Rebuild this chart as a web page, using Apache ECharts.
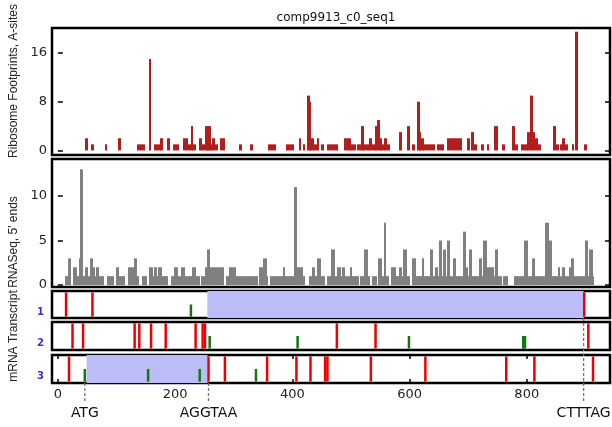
<!DOCTYPE html>
<html>
<head>
<meta charset="utf-8">
<script src="https://cdn.jsdelivr.net/npm/echarts@6/dist/echarts.min.js"></script>
<style>
    html, body { margin: 0; padding: 0; background: #fff; }
    #main { width: 612px; height: 427px; }
</style>
</head>
<body>
<div id="main"></div>
<script>
'use strict';

// 横轴: 转录本上的核苷酸位置
var xRange = [-10, 942];
var xTicks = [0, 200, 400, 600, 800];
var riboTicks = [0, 8, 16];
var rnaTicks = [0, 5, 10];

// 核糖体足迹 A 位点 [起, 止, 数量]
var riboSeg = [
    [48, 50, 2], [58, 60, 1], [81, 83, 1], [104, 106, 2], [136, 147, 1], [156, 158, 15],
    [166, 174, 1], [175, 178, 2], [188, 190, 2], [197, 206, 1], [214, 220, 2], [223, 226, 1],
    [228, 230, 4], [231, 235, 1], [243, 245, 2], [246, 250, 1], [253, 255, 4], [256, 257, 1],
    [258, 260, 4], [261, 264, 1], [265, 267, 2], [270, 272, 1], [278, 284, 2], [310, 312, 1],
    [330, 332, 1], [360, 371, 1], [390, 402, 1], [412, 414, 2], [419, 421, 1], [426, 428, 9],
    [429, 431, 8], [432, 435, 2], [437, 441, 1], [443, 445, 2], [451, 453, 1], [461, 471, 1],
    [474, 476, 1], [490, 498, 2], [499, 508, 1], [511, 517, 1], [519, 521, 4], [522, 531, 1],
    [533, 535, 2], [538, 542, 1], [543, 545, 4], [546, 548, 5], [549, 551, 2], [552, 556, 1],
    [558, 560, 2], [563, 565, 1], [583, 585, 3], [597, 599, 4], [606, 608, 1], [614, 616, 8],
    [617, 619, 3], [620, 624, 2], [625, 642, 1], [649, 658, 1], [666, 688, 2], [699, 701, 2],
    [706, 708, 3], [711, 713, 1], [723, 725, 1], [733, 735, 1], [745, 749, 4], [759, 761, 1],
    [776, 778, 4], [782, 784, 1], [792, 801, 1], [802, 804, 3], [807, 809, 9], [811, 813, 3],
    [816, 818, 2], [821, 823, 1], [846, 848, 4], [851, 853, 1], [858, 860, 1], [862, 864, 2],
    [867, 869, 1], [878, 880, 1], [884, 886, 19.5], [899, 901, 1]
];

// RNASeq 5' 端 [起, 止, 数量]
var rnaSeg = [
    [14, 17, 1], [18, 21, 3], [27, 31, 2], [32, 36, 1], [37, 38, 3], [39, 41, 13], [42, 47, 1],
    [48, 50, 2], [51, 54, 1], [56, 59, 3], [60, 62, 2], [63, 65, 1], [66, 69, 2], [70, 77, 1],
    [86, 95, 1], [100, 103, 2], [104, 114, 1], [121, 131, 2], [132, 134, 3], [135, 137, 1],
    [145, 151, 1], [157, 161, 2], [162, 165, 1], [166, 168, 2], [169, 172, 1], [173, 176, 2],
    [177, 180, 1], [183, 187, 1], [195, 199, 1], [200, 203, 2], [204, 208, 1], [212, 215, 2],
    [216, 225, 1], [227, 230, 1], [231, 234, 2], [235, 242, 1], [246, 251, 1], [252, 255, 2],
    [256, 258, 4], [259, 282, 2], [288, 293, 1], [294, 302, 2], [303, 308, 1], [309, 322, 1],
    [323, 340, 1], [345, 348, 2], [349, 351, 1], [352, 355, 3], [356, 358, 1], [363, 384, 1],
    [385, 387, 2], [388, 396, 1], [399, 401, 1], [404, 407, 11], [408, 417, 2], [418, 421, 1],
    [430, 434, 1], [435, 438, 2], [439, 441, 1], [444, 447, 3], [448, 454, 1], [460, 464, 1],
    [468, 471, 4], [472, 476, 1], [477, 482, 2], [483, 485, 1], [486, 488, 2], [489, 498, 1],
    [499, 501, 2], [502, 507, 1], [509, 512, 1], [517, 521, 1], [524, 527, 4], [528, 532, 1],
    [537, 543, 1], [547, 551, 3], [552, 556, 1], [557, 559, 7], [560, 563, 1], [569, 576, 2],
    [578, 583, 1], [584, 586, 2], [587, 590, 1], [591, 594, 4], [595, 599, 1], [605, 609, 3],
    [610, 617, 1], [618, 620, 1], [622, 624, 3], [625, 634, 1], [636, 638, 4], [639, 643, 1],
    [645, 648, 2], [649, 651, 1], [652, 654, 5], [655, 657, 1], [658, 660, 4], [661, 664, 1],
    [665, 668, 5], [669, 673, 1], [675, 678, 3], [679, 692, 1], [693, 695, 6], [696, 699, 2],
    [700, 702, 1], [703, 705, 4], [706, 719, 1], [720, 722, 3], [723, 726, 1], [727, 730, 5],
    [731, 743, 2], [744, 746, 1], [747, 749, 4], [750, 757, 1], [760, 766, 1], [780, 795, 1],
    [797, 800, 5], [801, 810, 1], [811, 813, 3], [814, 829, 1], [833, 836, 7], [837, 839, 1],
    [840, 842, 5], [843, 853, 1], [854, 856, 2], [857, 860, 1], [861, 864, 2], [865, 872, 1],
    [873, 875, 2], [876, 879, 3], [880, 899, 1], [900, 903, 5], [904, 907, 1], [908, 911, 4],
    [912, 913, 1]
];

// 三个读码框: 终止密码子, 起始密码子, ORF 区间
var stops1 = [14, 59, 898];
var stops2 = [25, 43, 131, 139, 159, 184, 235, 247, 251, 476, 542, 905];
var stops3 = [19, 257, 285, 357, 407, 431, 456, 460, 534, 627, 765, 813, 913];
var starts1 = [227];
var starts2 = [259, 409, 599, 794, 797];
var starts3 = [46, 154, 242, 338];
var orfs1 = [[255, 897]];
var orfs2 = [];
var orfs3 = [[49, 255]];

// 标注
var annoPos = [46, 257, 897];
var annoText = ['ATG', 'AGGTAA', 'CTTTAG'];
var annoFrame = [3, 3, 1];

var LEFT = 52, RIGHT = 2;
var panels = [
    {top: 28, height: 127},
    {top: 159, height: 128},
    {top: 291, height: 27},
    {top: 322, height: 28},
    {top: 355, height: 28}
];
var tickFont = {fontFamily: 'DejaVu Sans', fontSize: 13, color: '#222'};

init();

function init() {
    var chart = echarts.init(document.getElementById('main'));
    chart.setOption(buildOption());
}

function buildOption() {
    var grid = [], xAxis = [], yAxis = [], series = [];

    panels.forEach(function (p, i) {
        grid.push({
            left: LEFT, right: RIGHT, top: p.top, height: p.height,
            show: true, borderColor: '#000', borderWidth: 2.5, backgroundColor: 'transparent'
        });
        xAxis.push({
            type: 'value', gridIndex: i, min: xRange[0], max: xRange[1],
            axisLine: {show: false}, splitLine: {show: false},
            axisTick: {show: i === 4, inside: true, length: 4, customValues: xTicks,
                lineStyle: {color: '#000', width: 1.5}},
            axisLabel: Object.assign({show: i === 4, customValues: xTicks, margin: 5}, tickFont)
        });
    });
    // 第三读码框顶部的刻度
    xAxis.push({
        type: 'value', gridIndex: 4, position: 'top', min: xRange[0], max: xRange[1],
        axisLine: {show: false}, splitLine: {show: false}, axisLabel: {show: false},
        axisTick: {show: true, inside: true, length: 4, customValues: xTicks,
            lineStyle: {color: '#000', width: 1.5}}
    });

    // 上两个面板, 左右两侧都有刻度
    yAxis.push(valueY(0, 'left', -0.75, 20.1, riboTicks, true));
    yAxis.push(valueY(0, 'right', -0.75, 20.1, riboTicks, false));
    yAxis.push(valueY(1, 'left', -0.22, 14.16, rnaTicks, true));
    yAxis.push(valueY(1, 'right', -0.22, 14.16, rnaTicks, false));
    [1, 2, 3].forEach(function (f) {
        yAxis.push({
            type: 'value', gridIndex: f + 1, min: 0, max: 1,
            axisLine: {show: false}, splitLine: {show: false}, axisTick: {show: false},
            axisLabel: {
                customValues: [0.22], margin: 8, fontSize: 10, fontWeight: 'bold',
                fontFamily: 'DejaVu Sans', color: '#3333cc',
                formatter: function () { return String(f); }
            }
        });
    });

    series.push(segSeries(riboSeg, 0, 0, '#b01e1e'));
    series.push(segSeries(rnaSeg, 1, 2, '#808080'));

    var stops = [stops1, stops2, stops3],
        starts = [starts1, starts2, starts3],
        orfs = [orfs1, orfs2, orfs3];
    for (let f = 0; f < 3; f++) {
        series.push({
            type: 'custom', xAxisIndex: f + 2, yAxisIndex: f + 4, z: 1,
            data: orfs[f], encode: {x: [0, 1]},
            renderItem: function (params, api) {
                let a = api.coord([api.value(0), 1]), b = api.coord([api.value(1), 0]);
                return {type: 'rect', shape: {x: a[0], y: a[1], width: b[0] - a[0], height: b[1] - a[1]},
                    style: {fill: '#bcbcf6'}};
            }
        });
        series.push(codonSeries(starts[f], f, 0.5, '#117711'));
        series.push(codonSeries(stops[f], f, 0.95, '#ee0000'));
    }

    // 标注虚线和文字
    series.push({
        type: 'custom', xAxisIndex: 4, yAxisIndex: 6, clip: false, z: 5,
        data: annoPos.map(function (x, i) { return [x, annoFrame[i], i]; }),
        encode: {x: 0},
        renderItem: function (params, api) {
            let x = api.coord([api.value(0), 0])[0],
                p = panels[api.value(1) + 1],
                top = p.top + p.height;
            return {
                type: 'group', children: [
                    {type: 'line', shape: {x1: x, y1: top, x2: x, y2: 402},
                        style: {stroke: '#777', lineWidth: 1.3, lineDash: [3, 2]}},
                    {type: 'text', x: x, y: 413, style: {text: annoText[api.value(2)],
                        align: 'center', verticalAlign: 'middle',
                        font: '14px "DejaVu Sans"', fill: '#111'}}
                ]
            };
        }
    });

    return {
        animation: false,
        backgroundColor: '#fff',
        title: {
            text: 'comp9913_c0_seq1', left: 331, top: 7, textAlign: 'center',
            textStyle: {fontFamily: 'DejaVu Sans', fontSize: 12, fontWeight: 'normal', color: '#111'}
        },
        graphic: [
            sideLabel('Ribosome Footprints, A-sites', 81),
            sideLabel("RNASeq, 5' ends", 242),
            sideLabel('mRNA Transcript', 336)
        ],
        grid: grid,
        xAxis: xAxis,
        yAxis: yAxis,
        series: series
    };
}

function valueY(gi, pos, min, max, ticks, labels) {
    return {
        type: 'value', gridIndex: gi, position: pos, min: min, max: max,
        axisLine: {show: false}, splitLine: {show: false},
        axisTick: {show: true, inside: true, length: 5, customValues: ticks,
            lineStyle: {color: '#000', width: 1.5}},
        axisLabel: Object.assign({show: labels, customValues: ticks, margin: 5}, tickFont)
    };
}

// 计数条: 边缘取整到像素, 避免相邻条之间出现白缝
function segSeries(data, xi, yi, color) {
    return {
        type: 'custom', xAxisIndex: xi, yAxisIndex: yi,
        data: data, encode: {x: [0, 1], y: 2},
        renderItem: function (params, api) {
            let a = api.coord([api.value(0) - 0.5, api.value(2)]),
                b = api.coord([api.value(1) + 0.5, 0]),
                x0 = Math.floor(a[0]),
                x1 = Math.max(Math.ceil(b[0]), x0 + 2);
            return {type: 'rect', shape: {x: x0, y: a[1], width: x1 - x0, height: b[1] - a[1]},
                style: {fill: color}};
        }
    };
}

function codonSeries(data, f, h, color) {
    return {
        type: 'custom', xAxisIndex: f + 2, yAxisIndex: f + 4, z: 3,
        data: data.map(function (x) { return [x]; }), encode: {x: 0},
        renderItem: function (params, api) {
            let a = api.coord([api.value(0), h]), b = api.coord([api.value(0), 0.05]);
            return {type: 'rect', shape: {x: a[0] - 1.25, y: a[1], width: 2.5, height: b[1] - a[1]},
                style: {fill: color}};
        }
    };
}

function sideLabel(text, y) {
    return {
        type: 'text', x: 14, y: y, rotation: Math.PI / 2,
        style: {text: text, align: 'center', verticalAlign: 'middle',
            font: '12px "Liberation Sans"', fill: '#222'}
    };
}
</script>
</body>
</html>
